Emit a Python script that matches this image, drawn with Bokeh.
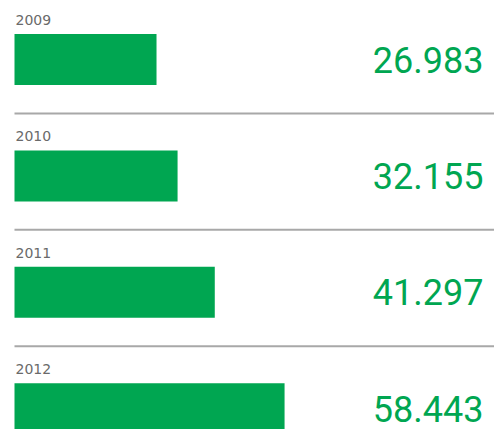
from bokeh.plotting import figure
from bokeh.models import Range1d, ColumnDataSource
from bokeh.core.properties import value
from bokeh.embed import file_html
from bokeh.resources import INLINE

years = ["2009", "2010", "2011", "2012"]
values = [26.983, 32.155, 41.297, 58.443]
value_labels = ["26.983", "32.155", "41.297", "58.443"]

W, H = 494, 429
PX_PER_ROW = 116.35
ROW0_PX = 59.1
X_PX_PER_UNIT = 4.07
ZERO_PX = 46.2
BAR_LEFT_PX = 14

GREEN = "#00a651"

rows = list(range(len(years)))
x_start = -ZERO_PX / X_PX_PER_UNIT
x_end = (W - ZERO_PX) / X_PX_PER_UNIT
bar_left = (BAR_LEFT_PX - ZERO_PX) / X_PX_PER_UNIT
y_top = -ROW0_PX / PX_PER_ROW
y_bottom = y_top + H / PX_PER_ROW

bar_h = 51 / PX_PER_ROW
src = ColumnDataSource(dict(
    row=rows,
    val=values,
    year=years,
    vlab=value_labels,
    label_y=[r - 39.5 / PX_PER_ROW for r in rows],
    value_y=[r for r in rows],
))
sep_rows = rows[:-1]
sep_src = ColumnDataSource(dict(y=[r + 53.9 / PX_PER_ROW for r in sep_rows]))

p = figure(width=W, height=H, output_backend="svg", toolbar_location=None,
           x_range=Range1d(x_start, x_end), y_range=Range1d(y_bottom, y_top),
           min_border=0, outline_line_color=None, background_fill_color="white",
           border_fill_color="white")
p.axis.visible = False
p.grid.visible = False

p.hbar(y="row", left=bar_left, right="val", height=bar_h, source=src,
       fill_color=GREEN, line_color=None)

p.text(x=bar_left, y="label_y", text="year", source=src,
       text_font=value("DejaVu Sans"), text_font_size="14px", text_color="#6a6a6a",
       text_baseline="middle", text_align="left", x_offset=1)

p.text(x=(483 - ZERO_PX) / X_PX_PER_UNIT, y="value_y", text="vlab", source=src,
       text_font=value("Roboto"), text_font_size="36px", text_color=GREEN,
       text_baseline="middle", text_align="right")

p.segment(x0=bar_left, x1=x_end, y0="y", y1="y", source=sep_src,
          line_color="#a8a8a8", line_width=2)

open("out.html", "w").write(file_html(p, INLINE))
